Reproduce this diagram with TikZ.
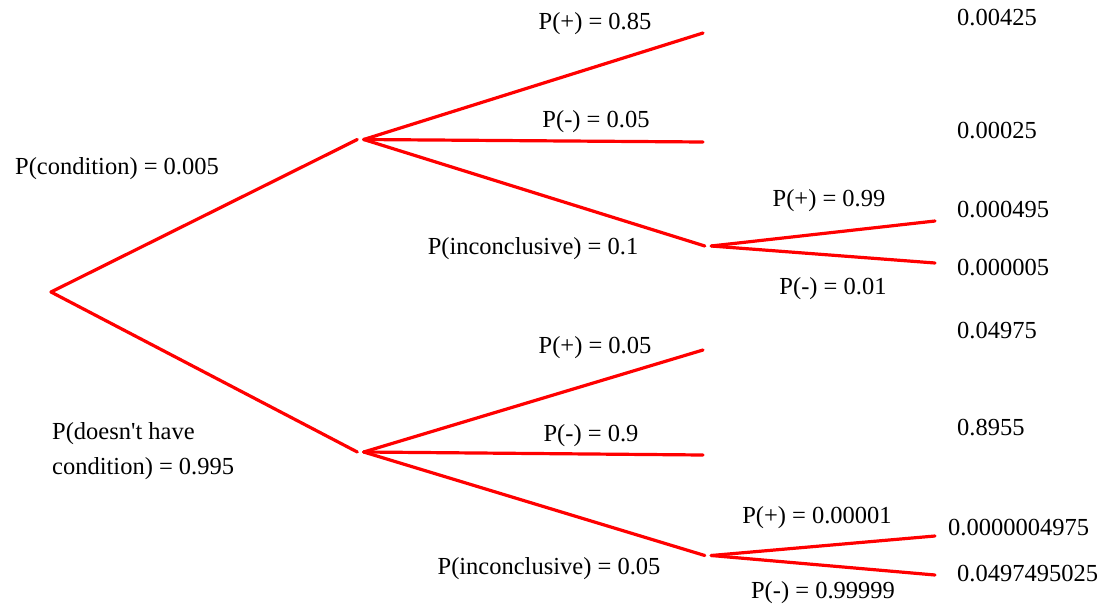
\documentclass[tikz,border=0pt]{standalone}
\usepackage{fontspec}
\setmainfont{Liberation Serif}
\begin{document}
\begin{tikzpicture}[x=1pt,y=-1pt,
  branch/.style={draw=red,line width=3.2pt,line cap=round},
  junction/.style={inner sep=0pt,minimum width=6pt,minimum height=0pt},
  lbl/.style={inner sep=0pt,anchor=base,font=\fontsize{24.5}{35}\selectfont},
  res/.style={inner sep=0pt,anchor=base west,font=\fontsize{24.5}{35}\selectfont}]
\useasboundingbox (0,0) rectangle (1105,605);
% junctions
\coordinate (root) at (51,292);
\node[junction] (A) at (360.5,139.5) {};
\node[junction] (B) at (360.5,452) {};
\node[junction] (AI) at (708,246) {};
\node[junction] (BI) at (708,555.5) {};
% leaves
\coordinate (Ap) at (703,33);
\coordinate (Am) at (703,142);
\coordinate (AIp) at (935,221);
\coordinate (AIm) at (935,263);
\coordinate (Bp) at (703,350);
\coordinate (Bm) at (703,455);
\coordinate (BIp) at (935,536);
\coordinate (BIm) at (935,575);
% connectors
\draw[branch] (root) -- (A.west);
\draw[branch] (root) -- (B.west);
\draw[branch] (A.east) -- (Ap);
\draw[branch] (A.east) -- (Am);
\draw[branch] (A.east) -- (AI.west);
\draw[branch] (AI.east) -- (AIp);
\draw[branch] (AI.east) -- (AIm);
\draw[branch] (B.east) -- (Bp);
\draw[branch] (B.east) -- (Bm);
\draw[branch] (B.east) -- (BI.west);
\draw[branch] (BI.east) -- (BIp);
\draw[branch] (BI.east) -- (BIm);
% labels
\node[lbl] (lcond) at (117,174) {P(condition) = 0.005};
\node[lbl,anchor=base west,align=left] (lnot) at (52,474) {P(doesn\textquotesingle t have\\condition) = 0.995};
\node[lbl] (lAp) at (595,29) {P(+) = 0.85};
\node[lbl] (lAm) at (596,127) {P(-) = 0.05};
\node[lbl] (lAI) at (533,254) {P(inconclusive) = 0.1};
\node[lbl] (lAIp) at (829,206) {P(+) = 0.99};
\node[lbl] (lAIm) at (833,294) {P(-) = 0.01};
\node[lbl] (lBp) at (595,353) {P(+) = 0.05};
\node[lbl] (lBm) at (591,441) {P(-) = 0.9};
\node[lbl] (lBI) at (549,574) {P(inconclusive) = 0.05};
\node[lbl] (lBIp) at (817,523) {P(+) = 0.00001};
\node[lbl] (lBIm) at (823,598) {P(-) = 0.99999};
% results
\node[res] (rAp) at (957,25) {0.00425};
\node[res] (rAm) at (957,138) {0.00025};
\node[res] (rAIp) at (957,217) {0.000495};
\node[res] (rAIm) at (957,275) {0.000005};
\node[res] (rBp) at (957,338) {0.04975};
\node[res] (rBm) at (957,435) {0.8955};
\node[res] (rBIp) at (948,535) {0.0000004975};
\node[res] (rBIm) at (957,581) {0.0497495025};
\end{tikzpicture}
\end{document}
